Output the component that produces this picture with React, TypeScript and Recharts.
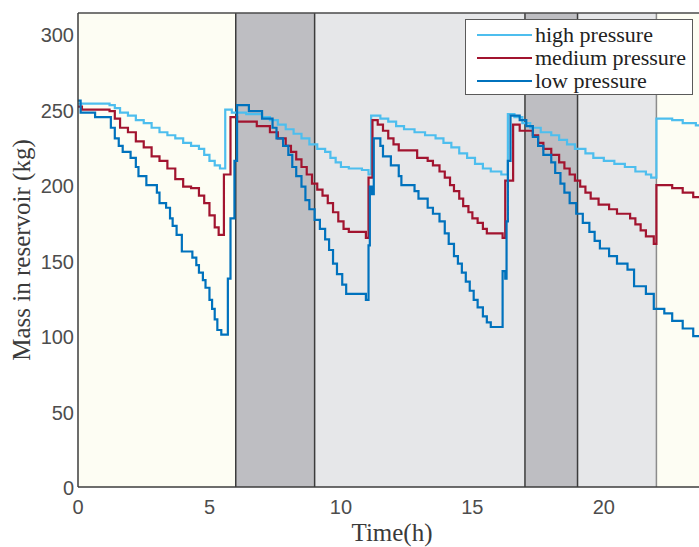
import React from "react";
import {
  LineChart,
  Line,
  XAxis,
  YAxis,
  ReferenceArea,
  ReferenceLine,
  Label,
} from "recharts";

// operating periods (h) and their background shading
const periodStart = [0, 6, 9, 17, 19, 22];
const periodEnd = [6, 9, 17, 19, 22, 24];
const periodFill = ["#fdfdf3", "#bebec2", "#e6e7e9", "#bebec2", "#e6e7e9", "#fdfdf3"];
const boundaryHours = [6, 9, 17, 19];

const xTicks = [0, 5, 10, 15, 20];
const yTicks = [0, 50, 100, 150, 200, 250, 300];

// high pressure reservoir
const highT = [
  0, 1.2, 1.4, 1.6, 1.9, 2.2, 2.5, 2.8, 3.1, 3.4, 3.7, 4.0, 4.3, 4.6, 4.8, 5.0, 5.2, 5.4,
  5.6, 5.85, 6.4, 7.0, 7.3, 7.6, 7.9, 8.2, 8.5, 8.8, 9.1, 9.4, 9.6, 9.8, 10.0, 10.3, 10.8, 11.05,
  11.15, 11.5, 11.8, 12.1, 12.4, 12.8, 13.2, 13.6, 13.9, 14.2, 14.5, 14.8, 15.1, 15.4, 15.7, 16.1,
  16.35, 16.6, 16.9, 17.2, 17.6, 18.0, 18.3, 18.6, 18.9, 19.3, 19.6, 20.0, 20.4, 20.8, 21.2, 21.6, 21.8,
  22.0, 22.6, 23.0, 23.5, 24,
];
const highMass = [
  254, 253, 251, 248, 246, 243, 241, 238, 235, 233, 231, 228, 226, 224, 220, 216, 213, 211,
  250, 248, 247, 245, 243, 240, 237, 234, 231, 227, 224, 222, 218, 215, 212, 211, 210, 207,
  246, 244, 242, 239, 237, 235, 233, 231, 228, 225, 221, 218, 214, 211, 209, 207,
  247, 245, 241, 238, 235, 233, 230, 227, 224, 221, 218, 216, 214, 212, 209, 207, 205,
  244, 243, 241, 239.5, 239,
];

// medium pressure reservoir
const mediumT = [
  0, 0.15, 1.2, 1.4, 1.6, 1.9, 2.2, 2.5, 2.8, 3.1, 3.4, 3.7, 4.0, 4.3, 4.6, 4.8, 5.0, 5.2, 5.35,
  5.55, 5.8, 6.05, 6.8, 7.3, 7.6, 7.9, 8.1, 8.3, 8.5, 8.7, 8.9, 9.1, 9.3, 9.5, 9.7, 9.9, 10.1, 10.3, 10.95,
  11.05, 11.2, 11.4, 11.6, 11.8, 12.0, 12.2, 12.9, 13.3, 13.5, 13.75, 13.95, 14.15, 14.3, 14.5, 14.65,
  14.85, 15.0, 15.2, 15.4, 15.55, 16.15,
  16.25, 16.55, 16.8, 17.3, 17.5, 17.7, 18.0, 18.3, 18.5, 18.7, 18.9, 19.1, 19.3, 19.5, 19.8, 20.2,
  20.5, 21.0, 21.2, 21.4, 21.6, 21.9,
  22.0, 22.6, 23.0, 23.4, 24,
];
const mediumMass = [
  252, 250, 249, 244, 238, 235, 229, 225, 219, 216, 211, 204, 199, 198, 193, 188, 180, 172, 167,
  207, 245, 242, 239, 235, 231, 226, 222, 217, 212, 207, 201, 197, 193, 188, 182, 176, 171, 169, 165,
  205, 243, 240, 236, 231, 227, 223, 218, 216, 213, 209, 205, 200, 196, 191, 186,
  182, 178, 175, 171, 168, 165,
  203, 240, 236, 233, 228, 224, 220, 215, 211, 207, 203, 199, 195, 191, 187, 184,
  181, 178, 174, 170, 166, 161,
  200, 198, 195, 192, 191,
];

// low pressure reservoir
const lowT = [
  0, 0.1, 0.65, 1.25, 1.4, 1.55, 1.7, 2.0, 2.2, 2.3, 2.6, 3.0, 3.1, 3.35, 3.5, 3.6, 3.75, 3.95,
  4.35, 4.5, 4.6, 4.75, 4.85, 5.0, 5.1, 5.2, 5.3, 5.45,
  5.7, 5.8, 5.95, 6.05, 6.5, 7.0, 7.4, 7.55, 7.8, 8.0, 8.15, 8.3, 8.5, 8.65, 8.8, 9.0, 9.2, 9.4,
  9.55, 9.7, 9.85, 10.05, 10.2, 10.95,
  11.05, 11.1, 11.18, 11.25, 11.5, 11.6, 11.9, 12.2, 12.3, 12.8, 12.95, 13.3, 13.5, 13.75, 13.95,
  14.1, 14.3, 14.45, 14.6, 14.75, 14.9, 15.05, 15.2, 15.4, 15.55, 15.7,
  16.15, 16.25, 16.3, 16.35, 16.45, 16.8, 17.05, 17.3, 17.5, 17.7, 18.0, 18.15, 18.35, 18.5, 18.7,
  18.95, 19.2, 19.45, 19.65, 19.85, 20.2, 20.5, 20.9, 21.15, 21.6, 21.9, 22.3, 22.6, 23.0, 23.4,
  23.7, 24,
];
const lowMass = [
  256, 248, 245, 238, 231, 226, 222, 218, 212, 206, 200, 195, 188, 185, 178, 173, 167, 156,
  152, 147, 142, 137, 132, 124, 118, 111, 104, 101,
  138, 178, 216, 253, 249, 244, 238, 231, 226, 220, 212, 206, 199, 190, 184, 177, 171, 164,
  157, 148, 141, 134, 128, 124,
  160, 199, 194, 231, 226, 219, 213, 206, 200, 196, 191, 185, 181, 176, 168,
  161, 153, 148, 142, 136, 130, 124, 119, 113, 109, 106,
  143, 138, 176, 216, 246, 243, 239, 232, 226, 220, 215, 208, 201, 195, 188,
  181, 175, 169, 163, 158, 153, 148, 144, 133, 128, 118, 115, 110, 105, 100,
  98, 97,
];

const zip = (t: number[], m: number[]) => t.map((h, i) => ({ t: h, mass: m[i] }));

const series = [
  { name: "high pressure", color: "#4dbeee", data: zip(highT, highMass) },
  { name: "medium pressure", color: "#a2142f", data: zip(mediumT, mediumMass) },
  { name: "low pressure", color: "#0072bd", data: zip(lowT, lowMass) },
];

const tickFont = { fontFamily: "'Liberation Sans', Arial, sans-serif", fontSize: 20, fill: "#4d4d4d" };
const serif = "'Liberation Serif', 'Times New Roman', serif";

const YTick = ({ x, y, payload }: any) => (
  <text x={x} y={y} dy={8} textAnchor="end" {...tickFont}>
    {payload.value}
  </text>
);

const LegendBox = () => (
  <div
    style={{
      position: "absolute",
      left: 465,
      top: 19,
      width: 228,
      height: 76,
      background: "#fff",
      border: "1px solid #5a5a5a",
      boxSizing: "border-box",
      paddingTop: 3,
      fontFamily: serif,
      fontSize: 22,
      color: "#222",
    }}
  >
    {series.map((s) => (
      <div key={s.name} style={{ display: "flex", alignItems: "center", height: 23 }}>
        <span style={{ display: "inline-block", width: 55, height: 2, background: s.color, marginLeft: 11, marginRight: 3 }} />
        <span>{s.name}</span>
      </div>
    ))}
  </div>
);

export default function App() {
  return (
    <div style={{ position: "fixed", left: 0, top: 0, width: 699, height: 547, overflow: "hidden", background: "#fff" }}>
      <LineChart width={709} height={547} margin={{ top: 13, right: 0, left: 0, bottom: 0 }}>
        <XAxis
          type="number"
          dataKey="t"
          domain={[0, 24]}
          ticks={xTicks}
          allowDataOverflow
          height={60}
          tickLine={false}
          tickSize={0}
          tickMargin={13}
          tick={tickFont}
          axisLine={{ stroke: "#3c3c3c", strokeWidth: 1.5 }}
        >
          <Label
            content={() => (
              <text x={392} y={541} textAnchor="middle" fontFamily={serif} fontSize={25} fill="#3a3a3a">
                Time(h)
              </text>
            )}
          />
        </XAxis>
        <YAxis
          type="number"
          dataKey="mass"
          domain={[0, 314]}
          ticks={yTicks}
          allowDataOverflow
          width={78}
          tickLine={false}
          tickSize={0}
          tickMargin={4}
          tick={<YTick />}
          axisLine={{ stroke: "#3c3c3c", strokeWidth: 1.5 }}
        >
          <Label
            content={() => (
              <text
                x={30}
                y={250}
                transform="rotate(-90, 30, 250)"
                textAnchor="middle"
                fontFamily={serif}
                fontSize={25}
                fill="#3a3a3a"
              >
                Mass in reservoir (kg)
              </text>
            )}
          />
        </YAxis>
        {periodStart.map((s, i) => (
          <ReferenceArea
            key={`p-${i}`}
            x1={s}
            x2={periodEnd[i]}
            y1={0}
            y2={314}
            fill={periodFill[i]}
            fillOpacity={1}
            stroke="none"
            ifOverflow="hidden"
          />
        ))}
        {boundaryHours.map((h) => (
          <ReferenceLine key={`b-${h}`} x={h} stroke="#3c3c3c" strokeWidth={1.5} />
        ))}
        <ReferenceLine x={22} stroke="#8c8c8c" strokeWidth={1.5} />
        <ReferenceLine y={314} stroke="#4a4a4a" strokeWidth={1.5} />
        {series.map((s) => (
          <Line
            key={s.name}
            data={s.data}
            dataKey="mass"
            name={s.name}
            type="stepAfter"
            stroke={s.color}
            strokeWidth={2.2}
            dot={false}
            activeDot={false}
            isAnimationActive={false}
          />
        ))}
      </LineChart>
      <LegendBox />
    </div>
  );
}
